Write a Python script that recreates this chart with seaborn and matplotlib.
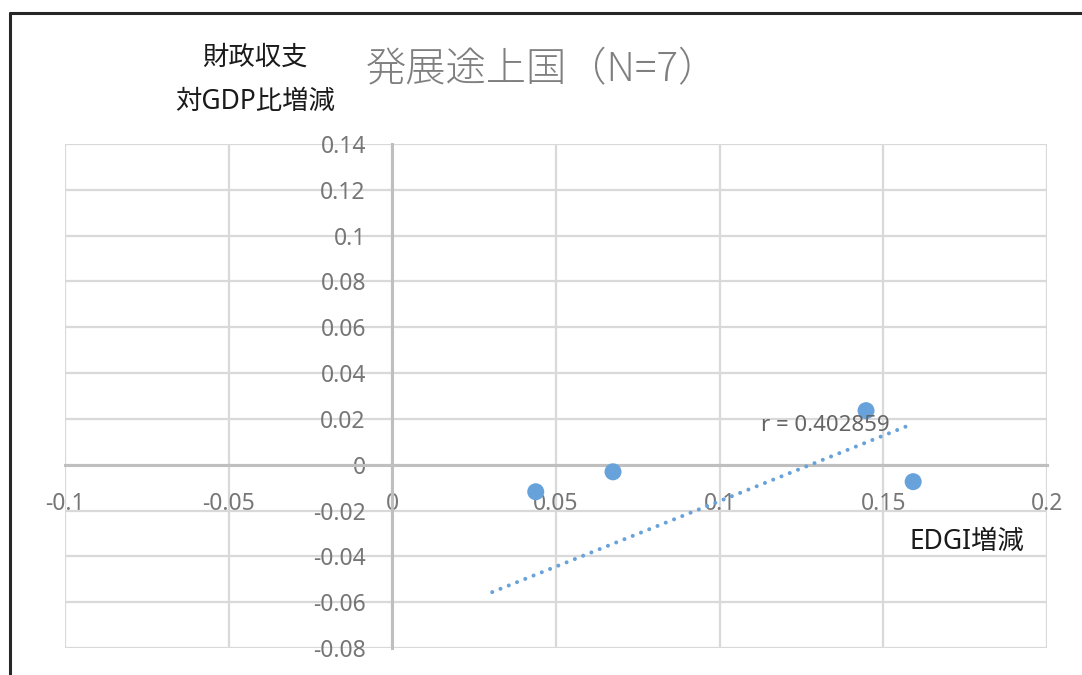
import matplotlib
matplotlib.use("Agg")
import matplotlib.pyplot as plt
from matplotlib.lines import Line2D
import seaborn as sns
import pandas as pd

# EDGI change vs. change in fiscal balance (% of GDP), developing countries
edgi_change = [0.0438, 0.0674, 0.1447, 0.1591]
fiscal_change = [-0.0118, -0.0031, 0.0236, -0.0074]

# linear trendline endpoints and correlation coefficient
trend_x = [0.0305, 0.1573]
trend_y = [-0.0556, 0.0169]
r_value = 0.402859

x_ticks = [-0.1, -0.05, 0, 0.05, 0.1, 0.15, 0.2]
x_tick_labels = ["-0.1", "-0.05", "0", "0.05", "0.1", "0.15", "0.2"]
y_ticks = [-0.08, -0.06, -0.04, -0.02, 0, 0.02, 0.04, 0.06, 0.08, 0.1, 0.12, 0.14]
y_tick_labels = ["-0.08", "-0.06", "-0.04", "-0.02", "0", "0.02", "0.04",
                 "0.06", "0.08", "0.1", "0.12", "0.14"]

title = "発展途上国（N=7）"
y_title = "財政収支\n対GDP比増減"
x_title = "EDGI増減"

sns.set_style("white")
latin_first = ["Noto Sans", "Noto Sans CJK JP", "DejaVu Sans"]
plt.rcParams["font.family"] = latin_first

fig = plt.figure(figsize=(10.82, 6.75), dpi=100)
ax = fig.add_axes([0.0601, 0.04, 0.9076, 0.7467])

df = pd.DataFrame({"x": edgi_change, "y": fiscal_change})
tdf = pd.DataFrame({"x": trend_x, "y": trend_y})

blue = "#67a2da"
sns.lineplot(data=tdf, x="x", y="y", ax=ax, color=blue, linewidth=2.9,
             linestyle=(0, (0.01, 2.2)), dash_capstyle="round", zorder=3)
sns.scatterplot(data=df, x="x", y="y", ax=ax, color=blue, s=150,
                edgecolor="none", zorder=4)

ax.set_xlim(-0.1, 0.2)
ax.set_ylim(-0.08, 0.14)
ax.set_xticks(x_ticks)
ax.set_xticklabels(x_tick_labels)
ax.set_yticks(y_ticks)
ax.set_yticklabels(y_tick_labels)
ax.set_xlabel("")
ax.set_ylabel("")

ax.grid(True, color="#d9d9d9", linewidth=1.6)
ax.set_axisbelow(True)
for side in ["top", "right"]:
    ax.spines[side].set_visible(False)
ax.spines["left"].set_position(("data", 0))
ax.spines["bottom"].set_position(("data", 0))
for side in ["left", "bottom"]:
    ax.spines[side].set_color("#bfbfbf")
    ax.spines[side].set_linewidth(2.2)
    ax.spines[side].set_zorder(2)

ax.tick_params(axis="x", length=0, pad=20, labelsize=16.5, labelcolor="#767676")
ax.tick_params(axis="y", length=0, pad=19, labelsize=16.5, labelcolor="#767676")

ax.text(0.1126, 0.0173, f"r = {r_value}", ha="left", va="center",
        fontsize=16, color="#646464", zorder=5)

fig.text(542 / 1082, 1 - 70 / 675, title, ha="center", va="center",
         fontsize=29, color="#7f7f7f", fontweight="light",
         family=["Noto Sans CJK JP", "DejaVu Sans"])
fig.text(255 / 1082, 1 - 80 / 675, y_title, ha="center", va="center",
         fontsize=19, color="#1a1a1a", linespacing=1.75)
fig.text(967 / 1082, 1 - 542 / 675, x_title, ha="center", va="center",
         fontsize=19, color="#1a1a1a")

# chart frame edges
fig.add_artist(Line2D([10 / 1082, 10 / 1082], [0, 1 - 13 / 675],
                      color="#262626", linewidth=2.2))
fig.add_artist(Line2D([10 / 1082, 1], [1 - 13 / 675, 1 - 13 / 675],
                      color="#262626", linewidth=2.2))

fig.savefig("out.png", dpi=100)
